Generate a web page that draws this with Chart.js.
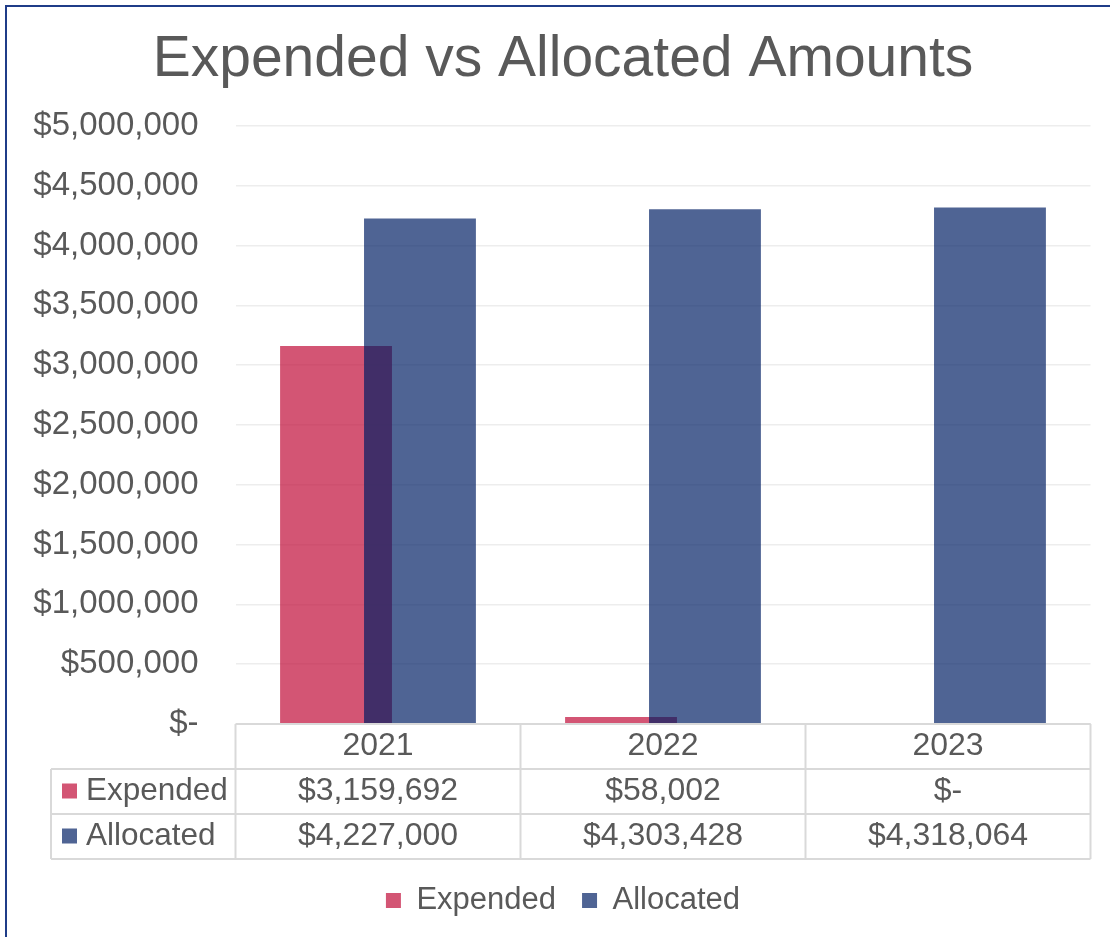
<!DOCTYPE html>
<html>
<head>
<meta charset="utf-8">
<script src="https://cdn.jsdelivr.net/npm/chart.js@4.4.1/dist/chart.umd.min.js"></script>
<style>
  html, body { margin: 0; padding: 0; background: #fff; }
</style>
</head>
<body>
<canvas id="chart" width="1110" height="937"></canvas>
<script>
const years = ['2021', '2022', '2023'];
const seriesNames = ['Expended', 'Allocated'];
const expended = [3159692, 58002, 0];
const allocated = [4227000, 4303428, 4318064];
const yMax = 5000000;
const yStep = 500000;

const textColor = '#595959';
const fontFamily = '"Liberation Sans", Arial, sans-serif';
const colors = ['rgba(191, 9, 54, 0.69)', 'rgba(0, 30, 100, 0.69)'];

// excel accounting style: zero shows as $-
const money = (v) => v === 0 ? '$-' : '$' + v.toLocaleString('en-US');

// allocated has to sit on top of expended where they overlap
const drawOrder = {
  id: 'drawOrder',
  beforeDatasetsDraw(chart) {
    chart.data.datasets.forEach((ds, i) => chart.getDatasetMeta(i).controller.draw());
    return false;
  }
};

// data table under the plot
const dataTable = {
  id: 'dataTable',
  afterDraw(chart) {
    const { ctx, chartArea } = chart;
    const xs = chart.scales.x;
    const rowH = xs.height / 3;
    const top = chartArea.bottom;
    const colW = chartArea.width / years.length;
    const labelLeft = 51;
    const line = (x1, y1, x2, y2) => {
      ctx.beginPath();
      ctx.moveTo(x1, y1);
      ctx.lineTo(x2, y2);
      ctx.stroke();
    };
    ctx.save();
    ctx.strokeStyle = '#D9D9D9';
    ctx.lineWidth = 2;
    line(chartArea.left, top, chartArea.right, top);
    for (let r = 1; r <= 3; r++) {
      line(labelLeft, top + r * rowH, chartArea.right, top + r * rowH);
    }
    for (let i = 0; i <= years.length; i++) {
      const x = chartArea.left + i * colW;
      line(x, top, x, top + 3 * rowH);
    }
    line(labelLeft, top + rowH, labelLeft, top + 3 * rowH);

    ctx.font = `32px ${fontFamily}`;
    ctx.textBaseline = 'middle';
    ctx.textAlign = 'center';
    ctx.fillStyle = textColor;
    years.forEach((y, i) => ctx.fillText(y, xs.getPixelForValue(i), top + rowH / 2));
    [expended, allocated].forEach((vals, r) => {
      const cy = top + (r + 1.5) * rowH;
      ctx.font = `32px ${fontFamily}`;
      ctx.textAlign = 'center';
      ctx.fillStyle = textColor;
      vals.forEach((v, i) => ctx.fillText(money(v), xs.getPixelForValue(i), cy));
      ctx.fillStyle = colors[r];
      ctx.fillRect(62, cy - 8, 15, 15);
      ctx.fillStyle = textColor;
      ctx.textAlign = 'left';
      ctx.font = `31.5px ${fontFamily}`;
      ctx.fillText(seriesNames[r], 86, cy);
    });
    ctx.restore();
  }
};

const frame = {
  id: 'frame',
  afterDraw(chart) {
    const ctx = chart.ctx;
    ctx.save();
    ctx.strokeStyle = '#1F3C88';
    ctx.lineWidth = 2;
    ctx.strokeRect(6, 6, 3000, 3000);
    ctx.restore();
  }
};

new Chart(document.querySelector('#chart'), {
  type: 'bar',
  data: {
    labels: years,
    datasets: [
      { label: seriesNames[0], data: expended, backgroundColor: colors[0], borderWidth: 0 },
      { label: seriesNames[1], data: allocated, backgroundColor: colors[1], borderWidth: 0 }
    ]
  },
  options: {
    responsive: false,
    animation: false,
    datasets: {
      bar: { categoryPercentage: 0.589, barPercentage: 1.333 }
    },
    layout: { padding: { left: 16, right: 0, top: 0, bottom: 11 } },
    scales: {
      x: {
        ticks: { display: false },
        grid: { display: false, drawTicks: false },
        border: { display: false },
        afterFit: (s) => { s.height = 135; }
      },
      y: {
        min: 0,
        max: yMax,
        ticks: {
          stepSize: yStep,
          color: textColor,
          font: { family: fontFamily, size: 33 },
          padding: 37,
          callback: (v) => money(v)
        },
        grid: {
          color: (c) => c.tick && c.tick.value === 0 ? '#D9D9D9' : '#EDEDED',
          lineWidth: 1.5,
          drawTicks: false
        },
        border: { display: false },
        afterFit: (s) => { s.width = 219.5; }
      },
      yPad: {
        position: 'right',
        ticks: { display: false },
        grid: { display: false, drawTicks: false },
        border: { display: false },
        afterFit: (s) => { s.width = 19.5; }
      }
    },
    plugins: {
      title: {
        display: true,
        text: 'Expended vs Allocated Amounts',
        color: textColor,
        font: { family: fontFamily, size: 57, weight: 'normal' },
        padding: { top: 26, bottom: 31.6 }
      },
      legend: {
        position: 'bottom',
        labels: {
          boxWidth: 15,
          boxHeight: 15,
          color: textColor,
          font: { family: fontFamily, size: 31 },
          padding: 26
        }
      },
      tooltip: { enabled: false }
    }
  },
  plugins: [drawOrder, dataTable, frame]
});
</script>
</body>
</html>
